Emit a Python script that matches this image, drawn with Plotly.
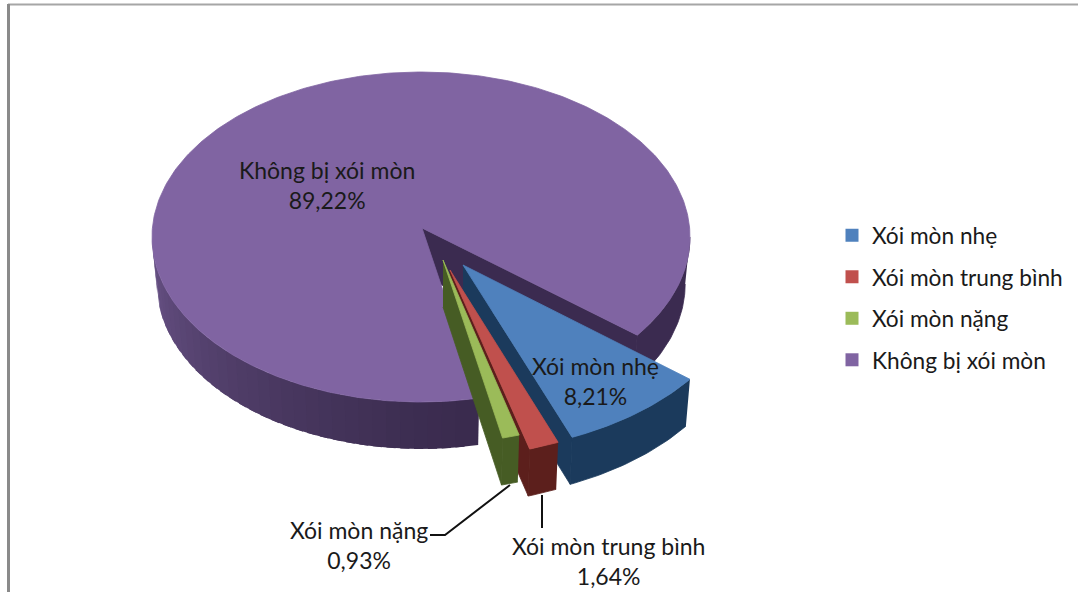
import numpy as np
import plotly.graph_objects as go

CATEGORIES = ["Xói mòn nhẹ", "Xói mòn trung bình", "Xói mòn nặng", "Không bị xói mòn"]
VALUES = [8.21, 1.64, 0.93, 89.22]
TOP_COLORS = ["#4f81bd", "#c0504d", "#9bbb59", "#8064a2"]
WALL_COLORS = ["#1b3a5c", "#5c1f1c", "#465c24", "#3b2b50"]

# Drawing geometry (pixels of the 1078x592 canvas, y downwards)
START_ANGLE = 36.5
DEPTH = 47
SHRINK = 0.018
APEX = [(463, 265), (450, 270), (443, 260), (422, 228)]
CENTER = [(452, 271), (438, 276), (427.5, 262), (421, 237)]
RADII = [(296, 182), (296, 182), (296, 182), (269, 165)]
PURPLE_GAP = 2.2
FONT = "Lato, 'Noto Sans', sans-serif"
FONT_SIZE = 23
LEGEND_FONT_SIZE = 22.7
TEXT = "#1a1a1a"

fig = go.Figure()


def poly(xs, ys, color, width=0.8):
    fig.add_trace(go.Scatter(x=list(xs), y=list(ys), mode="lines", fill="toself",
                             fillcolor=color, line=dict(color=color, width=width),
                             hoverinfo="skip", showlegend=False))


def arc(i, t):
    t = np.radians(t)
    return CENTER[i][0] + RADII[i][0] * np.cos(t), CENTER[i][1] + RADII[i][1] * np.sin(t)


def drop(i, x, y):
    return x + (APEX[i][0] - x) * SHRINK, y + DEPTH


def wall(i, t0, t1, color, width=0.8):
    t = np.linspace(t0, t1, max(int(abs(t1 - t0)) + 2, 4))
    x, y = arc(i, t)
    bx, by = drop(i, x, y)
    poly(np.r_[x, bx[::-1]], np.r_[y, by[::-1]], color, width)


def mix(a, b, f):
    ca = [int(a[k:k + 2], 16) for k in (1, 3, 5)]
    cb = [int(b[k:k + 2], 16) for k in (1, 3, 5)]
    return "rgb(%d,%d,%d)" % tuple(round(p + (q - p) * f) for p, q in zip(ca, cb))


edges = START_ANGLE + np.r_[0, np.cumsum(VALUES)] * 3.6

# Purple slice: cut face, right wall, shaded front wall, top
i = 3
p_start = edges[3] + PURPLE_GAP
p_end = edges[4]
ex, ey = arc(i, START_ANGLE)
bx, by = drop(i, ex, ey)
ax, ay = APEX[i]
poly([ax, ex, bx, ax], [ay, ey, by, ay + DEPTH], WALL_COLORS[i])
wall(i, 0, START_ANGLE, WALL_COLORS[i])
steps = np.arange(p_start, 180, 3.0)
# painted left to right, each strip overlapping the previous one
for a in steps[::-1]:
    f = (a + 1.5 - p_start) / (180 - p_start)
    wall(i, a, min(a + 5, 180), mix("#3a2b4e", "#6a5488", f ** 1.3), 0)
t = np.linspace(p_start, p_end, 400)
x, y = arc(i, t)
poly(np.r_[ax, x, ax], np.r_[ay, y, ay], TOP_COLORS[i])

# Exploded slices, back to front
for i in range(3):
    t0, t1 = edges[i], edges[i + 1]
    ax, ay = APEX[i]
    ex, ey = arc(i, t1)
    bx, by = drop(i, ex, ey)
    poly([ax, ex, bx, ax], [ay, ey, by, ay + DEPTH], WALL_COLORS[i])
    wall(i, t0, t1, WALL_COLORS[i])
    t = np.linspace(t0, t1, 40)
    x, y = arc(i, t)
    poly(np.r_[ax, x, ax], np.r_[ay, y, ay], TOP_COLORS[i])

# Leader lines
fig.add_trace(go.Scatter(x=[510, 445, 430], y=[485, 535, 535], mode="lines",
                         line=dict(color="#111111", width=2), hoverinfo="skip", showlegend=False))
fig.add_trace(go.Scatter(x=[542, 542], y=[495, 528], mode="lines",
                         line=dict(color="#111111", width=2), hoverinfo="skip", showlegend=False))

# Legend entries
for k, (name, color) in enumerate(zip(CATEGORIES, TOP_COLORS)):
    fig.add_trace(go.Scatter(x=[None], y=[None], mode="markers", name=name, legendgroup=str(k),
                             marker=dict(symbol="square", size=13, color=color)))

LABEL_POS = [(595, 381), (608, 561), (359, 545), (327, 185)]
annotations = [
    dict(x=p[0], y=p[1], xref="x", yref="y", showarrow=False, align="center",
         text=f"{c}<br>{str(v).replace('.', ',')}%",
         font=dict(family=FONT, size=FONT_SIZE, color=TEXT))
    for c, v, p in zip(CATEGORIES, VALUES, LABEL_POS)
]

fig.update_layout(
    width=1078, height=592, autosize=False,
    margin=dict(l=0, r=0, t=0, b=0),
    paper_bgcolor="white", plot_bgcolor="white",
    xaxis=dict(range=[0, 1078], visible=False, fixedrange=True),
    yaxis=dict(range=[592, 0], visible=False, fixedrange=True),
    font=dict(family=FONT, size=FONT_SIZE, color=TEXT),
    legend=dict(x=832 / 1078, y=1 - 214 / 592, xanchor="left", yanchor="top",
                bgcolor="rgba(0,0,0,0)", tracegroupgap=9,
                font=dict(family=FONT, size=LEGEND_FONT_SIZE, color=TEXT)),
    annotations=annotations,
    shapes=[
        dict(type="line", xref="x", yref="y", x0=8, x1=1078, y0=4.5, y1=4.5,
             line=dict(color="#a6a6a6", width=2)),
        dict(type="line", xref="x", yref="y", x0=8.5, x1=8.5, y0=4, y1=592,
             line=dict(color="#8a8a8a", width=3)),
    ],
)

fig.write_html("out.html", config={"displayModeBar": False},
               post_script="document.body.style.margin='0';document.documentElement.style.overflow='hidden';")
